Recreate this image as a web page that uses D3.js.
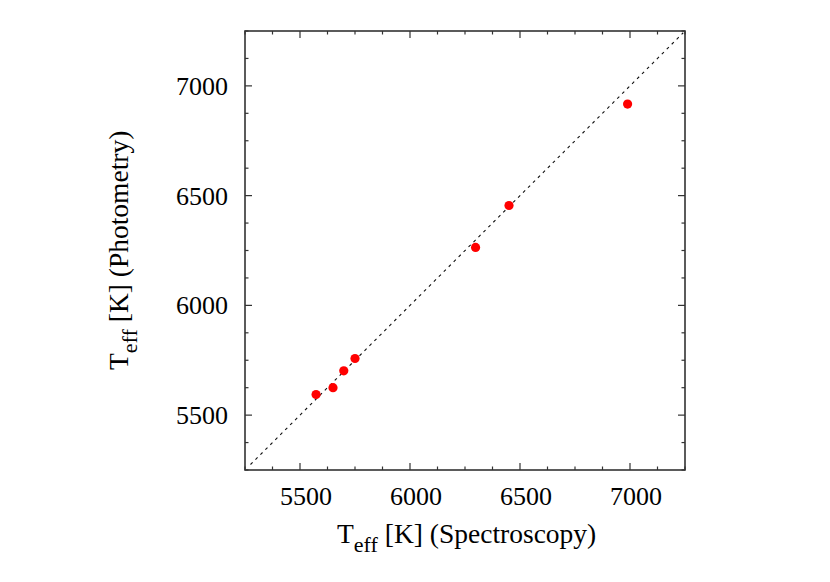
<!DOCTYPE html>
<html lang="en">
<head>
    <meta charset="UTF-8">
    <title>Teff photometry vs spectroscopy</title>
    <script src="https://cdn.jsdelivr.net/npm/d3@7/dist/d3.min.js"></script>
    <style>
        body { margin: 0; background: #fff; }
        svg { display: block; font-family: "Liberation Serif", "Times New Roman", serif; }
    </style>
</head>
<body>
<div id="chart"></div>
<script>
    // data
    const tSpec = [5573, 5650, 5699, 5750, 6298, 6450, 6989];
    const tPhot = [5594, 5625, 5702, 5758, 6264, 6455, 6917];
    const majorTicks = [5500, 6000, 6500, 7000];
    const tickLabels = ["5500", "6000", "6500", "7000"];
    const oneToOne = [5275, 7242];   // ends of the dotted y = x line

    const width = 830, height = 582;
    const margin = { left: 245, right: 145, top: 31, bottom: 112 };

    const svg = d3.select("#chart").append("svg")
        .attr("width", width)
        .attr("height", height);

    const x = d3.scaleLinear().domain([5250, 7250]).range([margin.left, width - margin.right]);
    const y = d3.scaleLinear().domain([5250, 7250]).range([height - margin.bottom, margin.top]);

    const minorTicks = d3.range(5250, 7251, 125).filter(v => !majorTicks.includes(v));
    const frameColor = "#333";

    // ticks, inward on all four sides
    const tickG = svg.append("g").attr("stroke", frameColor).attr("stroke-width", 1.2);
    function drawTicks(vals, len) {
        vals.forEach(v => {
            tickG.append("line").attr("x1", x(v)).attr("x2", x(v)).attr("y1", y.range()[0]).attr("y2", y.range()[0] - len);
            tickG.append("line").attr("x1", x(v)).attr("x2", x(v)).attr("y1", y.range()[1]).attr("y2", y.range()[1] + len);
            tickG.append("line").attr("y1", y(v)).attr("y2", y(v)).attr("x1", x.range()[0]).attr("x2", x.range()[0] + len);
            tickG.append("line").attr("y1", y(v)).attr("y2", y(v)).attr("x1", x.range()[1]).attr("x2", x.range()[1] - len);
        });
    }
    drawTicks(majorTicks, 7);
    drawTicks(minorTicks, 3.5);

    // dotted 1:1 line
    svg.append("line")
        .attr("x1", x(oneToOne[0])).attr("y1", y(oneToOne[0]))
        .attr("x2", x(oneToOne[1])).attr("y2", y(oneToOne[1]))
        .attr("stroke", "#111")
        .attr("stroke-width", 1.1)
        .attr("stroke-dasharray", "3,4");

    // points
    svg.append("g").selectAll("circle")
        .data(tSpec)
        .enter()
        .append("circle")
        .attr("cx", d => x(d))
        .attr("cy", (d, i) => y(tPhot[i]))
        .attr("r", 4.6)
        .attr("fill", "#ff0000");

    // frame
    svg.append("rect")
        .attr("x", x.range()[0]).attr("y", y.range()[1])
        .attr("width", x.range()[1] - x.range()[0])
        .attr("height", y.range()[0] - y.range()[1])
        .attr("fill", "none")
        .attr("stroke", frameColor)
        .attr("stroke-width", 1.6);

    // tick labels
    svg.append("g").selectAll("text")
        .data(majorTicks)
        .enter()
        .append("text")
        .attr("x", d => x(d) + 6)
        .attr("y", 505)
        .attr("text-anchor", "middle")
        .style("font-size", "26px")
        .text((d, i) => tickLabels[i]);

    svg.append("g").selectAll("text")
        .data(majorTicks)
        .enter()
        .append("text")
        .attr("x", 228)
        .attr("y", d => y(d) + 9)
        .attr("text-anchor", "end")
        .style("font-size", "26px")
        .text((d, i) => tickLabels[i]);

    // axis titles with subscript
    function axisTitle(g, rest) {
        g.append("tspan").text("T");
        g.append("tspan").attr("dy", 9).style("font-size", "22px").text("eff");
        g.append("tspan").attr("dy", -9).text(" " + rest);
    }

    const xt = svg.append("text")
        .attr("x", 337).attr("y", 543)
        .style("font-size", "27.5px");
    axisTitle(xt, "[K] (Spectroscopy)");

    const yt = svg.append("text")
        .attr("transform", "translate(128,370) rotate(-90)")
        .style("font-size", "27.5px");
    axisTitle(yt, "[K] (Photometry)");
</script>
</body>
</html>
